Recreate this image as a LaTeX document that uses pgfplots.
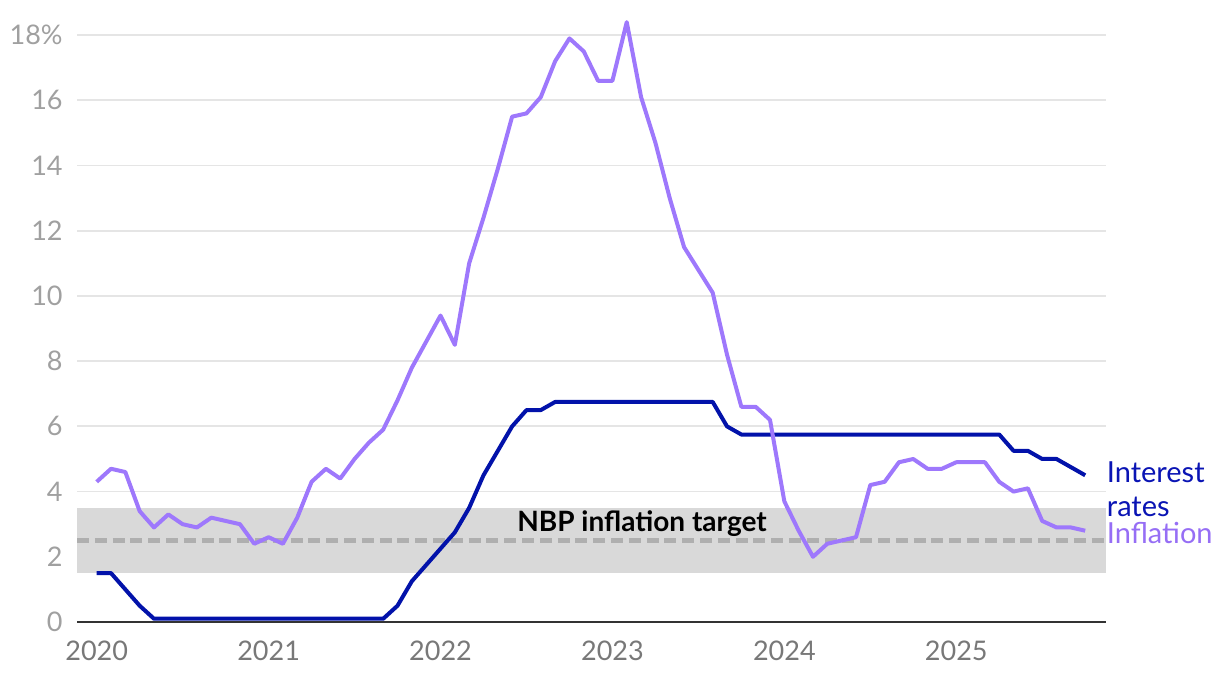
\documentclass[border=0pt]{standalone}
\usepackage{fontspec}
\setmainfont{Lato}
\usepackage{pgfplots}
\pgfplotsset{compat=1.18}
\usepackage{pgfplotstable}

\definecolor{infl}{RGB}{158,120,252}
\definecolor{rate}{RGB}{2,18,170}
\definecolor{inflLabel}{RGB}{150,110,245}
\definecolor{rateLabel}{RGB}{10,20,180}
\definecolor{band}{RGB}{217,217,217}
\definecolor{tgt}{RGB}{175,175,175}
\definecolor{gridc}{RGB}{229,229,229}
\definecolor{ylab}{RGB}{160,160,160}
\definecolor{xlab}{RGB}{120,120,120}
\definecolor{axisc}{RGB}{51,51,51}

% month index from Jan 2020, CPI inflation (%), NBP reference rate (%)
\pgfplotstableread{
m infl rate
0 4.3 1.5
1 4.7 1.5
2 4.6 1.0
3 3.4 0.5
4 2.9 0.1
5 3.3 0.1
6 3.0 0.1
7 2.9 0.1
8 3.2 0.1
9 3.1 0.1
10 3.0 0.1
11 2.4 0.1
12 2.6 0.1
13 2.4 0.1
14 3.2 0.1
15 4.3 0.1
16 4.7 0.1
17 4.4 0.1
18 5.0 0.1
19 5.5 0.1
20 5.9 0.1
21 6.8 0.5
22 7.8 1.25
23 8.6 1.75
24 9.4 2.25
25 8.5 2.75
26 11.0 3.5
27 12.4 4.5
28 13.9 5.25
29 15.5 6.0
30 15.6 6.5
31 16.1 6.5
32 17.2 6.75
33 17.9 6.75
34 17.5 6.75
35 16.6 6.75
36 16.6 6.75
37 18.4 6.75
38 16.1 6.75
39 14.7 6.75
40 13.0 6.75
41 11.5 6.75
42 10.8 6.75
43 10.1 6.75
44 8.2 6.0
45 6.6 5.75
46 6.6 5.75
47 6.2 5.75
48 3.7 5.75
49 2.8 5.75
50 2.0 5.75
51 2.4 5.75
52 2.5 5.75
53 2.6 5.75
54 4.2 5.75
55 4.3 5.75
56 4.9 5.75
57 5.0 5.75
58 4.7 5.75
59 4.7 5.75
60 4.9 5.75
61 4.9 5.75
62 4.9 5.75
63 4.3 5.75
64 4.0 5.25
65 4.1 5.25
66 3.1 5.0
67 2.9 5.0
68 2.9 4.75
69 2.8 4.5
}\datatable

\begin{document}
\begin{tikzpicture}
\begin{axis}[
  set layers,
  at={(0,0)}, anchor=south west,
  scale only axis, width=514.5bp, height=303.2bp,
  xmin=2019.8855, xmax=2025.871, ymin=0, ymax=18.6,
  clip=false,
  axis x line*=bottom, axis y line*=left,
  x axis line style={-, draw=axisc, line width=1.3bp},
  y axis line style={draw=none},
  major tick length=0pt,
  ymajorgrids, grid style={gridc, line width=0.9bp},
  ytick={0,2,...,18},
  yticklabels={0,2,4,6,8,10,12,14,16,18\%},
  xtick={2020,2021,2022,2023,2024,2025},
  xticklabels={2020,2021,2022,2023,2024,2025},
  /pgf/number format/assume math mode=true,
  tick label style={font=\fontsize{13.5bp}{16bp}\selectfont},
  yticklabel style={ylab, anchor=east, inner sep=0pt, xshift=-7bp},
  xticklabel style={xlab, anchor=north, inner sep=0pt, yshift=-9.5bp},
]
\fill[band, on layer=axis background] (axis cs:2019.8855,1.5) rectangle (axis cs:2025.871,3.5);
\draw[tgt, line width=2.8bp, dash pattern=on 6bp off 2.9bp] (axis cs:2019.8855,2.5) -- (axis cs:2025.871,2.5);

\addplot[rate, line width=2bp, line join=round] table[x expr=2020+\thisrow{m}/12, y=rate] {\datatable};
\addplot[infl, line width=2bp, line join=round] table[x expr=2020+\thisrow{m}/12, y=infl] {\datatable};

\node[anchor=base, inner sep=0pt, font=\bfseries\fontsize{14bp}{16bp}\selectfont] at (axis cs:2023.172,2.77) {NBP inflation target};
\node[anchor=base west, inner sep=0pt, rateLabel, font=\fontsize{14.5bp}{16bp}\selectfont] at (axis cs:2025.874,4.27) {Interest};
\node[anchor=base west, inner sep=0pt, rateLabel, font=\fontsize{14.5bp}{16bp}\selectfont] at (axis cs:2025.874,3.25) {rates};
\node[anchor=base west, inner sep=0pt, inflLabel, font=\fontsize{14.5bp}{16bp}\selectfont] at (axis cs:2025.874,2.41) {Inflation};
\end{axis}
\pgfresetboundingbox
\useasboundingbox (-38.5bp,-28bp) rectangle (571.5bp,311bp);
\end{tikzpicture}
\end{document}
